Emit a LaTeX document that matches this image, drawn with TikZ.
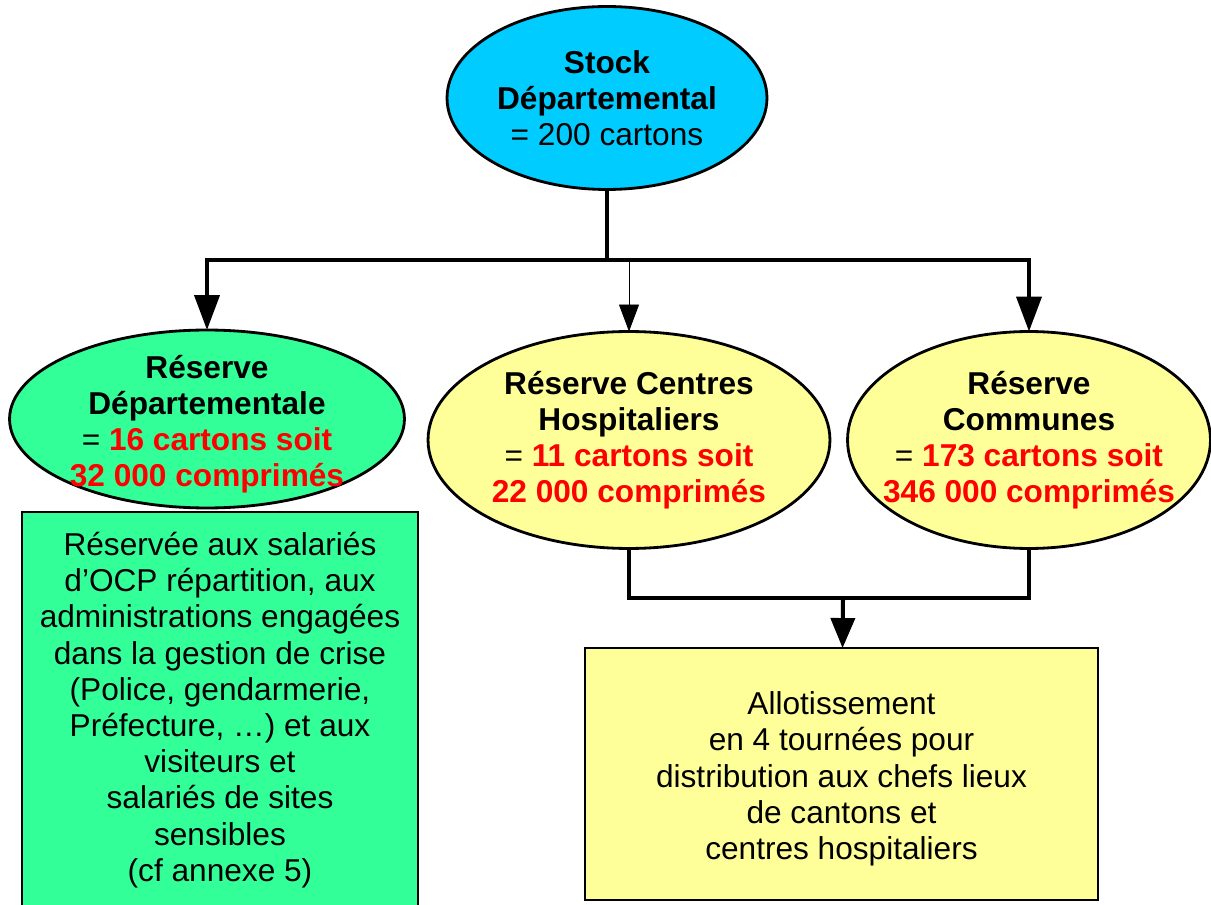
\documentclass[tikz,border=0pt]{standalone}
\usepackage{fontspec}
\setmainfont{Liberation Sans}
\usetikzlibrary{shapes.geometric,arrows.meta,positioning}
\definecolor{stockblue}{HTML}{00CCFF}
\definecolor{resgreen}{HTML}{33FF99}
\definecolor{resyellow}{HTML}{FFFF99}

\begin{document}
\begin{tikzpicture}[x=0.02cm,y=-0.02cm,
	every node/.style={font=\fontsize{18}{20.6}\selectfont, align=center},
	ell/.style={ellipse, draw, line width=1.6pt, inner sep=0pt, outer sep=0pt},
	box/.style={rectangle, draw, line width=1.6pt, inner sep=0pt, outer sep=0pt},
	conn/.style={line width=2.3pt, line join=miter}]
	\clip (0,0) rectangle (1211,905);
	% ellipses
	\node[ell, fill=stockblue, minimum width=6.4cm, minimum height=3.66cm,
	      label={center:{\bfseries Stock\\\bfseries Départemental\\= 200 cartons}}] (stock) at (607,98) {};
	\node[ell, fill=resgreen, minimum width=7.9cm, minimum height=3.56cm,
	      label={[yshift=-0.1cm]center:{\bfseries Réserve\\\bfseries Départementale\\= \textcolor{red}{\bfseries 16 cartons soit}\\\textcolor{red}{\bfseries 32 000 comprimés}}}] (resdep) at (207,419) {};
	\node[ell, fill=resyellow, minimum width=8.04cm, minimum height=4.34cm,
	      label={center:{\bfseries Réserve Centres\\\bfseries Hospitaliers\\= \textcolor{red}{\bfseries 11 cartons soit}\\\textcolor{red}{\bfseries 22 000 comprimés}}}] (reshosp) at (629,440) {};
	\node[ell, fill=resyellow, minimum width=7.26cm, minimum height=4.34cm,
	      label={center:{\bfseries Réserve\\\bfseries Communes\\= \textcolor{red}{\bfseries 173 cartons soit}\\\textcolor{red}{\bfseries 346 000 comprimés}}}] (rescom) at (1029,440) {};
	% boxes
	\node[box, fill=resgreen, minimum width=7.92cm, minimum height=7.92cm] (resdepbox) at (220,710)
	     {Réservée aux salariés\\d’OCP répartition, aux\\administrations engagées\\dans la gestion de crise\\(Police, gendarmerie,\\Préfecture, …) et aux\\visiteurs et\\salariés de sites\\sensibles\\(cf annexe 5)};
	\node[box, fill=resyellow, minimum width=10.26cm, minimum height=5.04cm,
	      label={[yshift=-0.1cm]center:{Allotissement\\en 4 tournées pour\\distribution aux chefs lieux\\de cantons et\\centres hospitaliers}}] (allot) at (841.5,774) {};
	% connectors
	\coordinate (split) at (607,260);
	\coordinate (merge) at (843,598);
	\draw[conn] (stock) -- (split);
	\draw[conn, {Triangle[width=0.5cm,length=0.7cm]}-{Triangle[width=0.5cm,length=0.7cm]}]
	     (resdep.north) |- (split) -| (rescom.north);
	\draw[line width=0.5pt, -{Triangle[width=0.4cm,length=0.54cm]}] (split -| reshosp.north) -- (reshosp.north);
	\draw[conn] (reshosp.south) |- (merge) -| (rescom.south);
	\draw[conn, -{Triangle[width=0.48cm,length=0.6cm]}] (merge) -- (allot);
\end{tikzpicture}
\end{document}
